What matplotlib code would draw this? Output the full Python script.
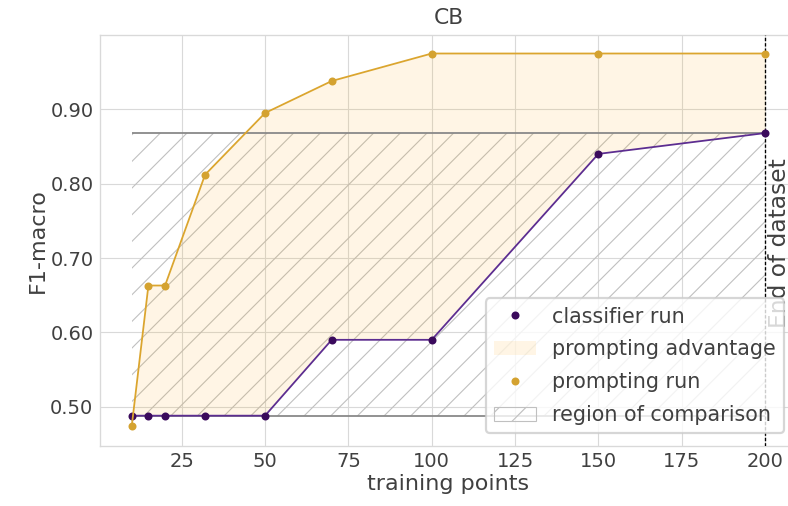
import numpy as np
import matplotlib
matplotlib.use('Agg')
import matplotlib.pyplot as plt
import matplotlib.patches as mpatches
import matplotlib.lines as mlines
import seaborn as sns

# data
train_points = [10, 15, 20, 32, 50, 70, 100, 150, 200]
classifier_f1 = [0.488, 0.488, 0.488, 0.488, 0.488, 0.590, 0.590, 0.840, 0.868]
prompting_f1 = [0.474, 0.663, 0.663, 0.812, 0.895, 0.938, 0.975, 0.975, 0.975]
dataset_end = 200
title = 'CB'

sns.set_style('whitegrid', {'grid.color': '.85', 'axes.edgecolor': '.85',
                            'text.color': '.25', 'xtick.color': '.25',
                            'ytick.color': '.25', 'axes.labelcolor': '.25'})
plt.rcParams['font.family'] = ['DejaVu Sans']
plt.rcParams['hatch.linewidth'] = 0.5

dpi = 160
fig = plt.figure(figsize=(788 / dpi, 506 / dpi), dpi=dpi)
ax = fig.add_axes([0.127, 0.119, 0.884, 0.812])

x = np.array(train_points)
clf = np.array(classifier_f1)
prm = np.array(prompting_f1)
cmin, cmax = clf.min(), clf.max()

clf_line = '#5c2d91'
clf_dot = '#3a0a5c'
prm_line = '#dba52e'
prm_dot = '#d4a230'

# region of comparison
ax.fill_between(x, cmin, cmax, facecolor='none', edgecolor='#c0c0c0',
                linewidth=0, hatch='//', zorder=1)
ax.hlines([cmin, cmax], x[0], x[-1], color='#888888', linewidth=0.8, zorder=2)

# prompting advantage
ax.fill_between(x, clf, prm, where=prm >= clf, interpolate=True,
                color='orange', alpha=0.1, linewidth=0, zorder=1)

ax.plot(x, clf, color=clf_line, linewidth=0.8, marker='o', markersize=2.6,
        markerfacecolor=clf_dot, markeredgecolor=clf_dot, zorder=4)
ax.plot(x, prm, color=prm_line, linewidth=0.8, marker='o', markersize=2.6,
        markerfacecolor=prm_dot, markeredgecolor=prm_dot, zorder=4)

ax.axvline(dataset_end, color='black', linestyle='--', linewidth=0.6,
           dashes=(2.5, 1.5), zorder=3)
ax.text(dataset_end + 4.3, 0.72, 'End of dataset', rotation=90,
        ha='center', va='center', fontsize=10.5, color='.25', zorder=3)

yt = [0.5, 0.6, 0.7, 0.8, 0.9]
ax.set_ylim(0.4475, 1.0)
ax.set_yticks(yt)
ax.set_yticklabels(['%.2f' % v for v in yt])
ax.set_xticks([25, 50, 75, 100, 125, 150, 175, 200])
ax.set_xlim(0.5, 209.5)
ax.tick_params(labelsize=8.8, length=0, pad=3)
ax.grid(linewidth=0.5)
for s in ax.spines.values():
    s.set_linewidth(0.6)

ax.set_title(title, fontsize=9.8, pad=5)
ax.set_xlabel('training points', fontsize=10, labelpad=1)
ax.set_ylabel('F1-macro', fontsize=10, labelpad=1)

handles = [
    mlines.Line2D([], [], linestyle='none', marker='o', markersize=2.6,
                  color=clf_dot),
    mpatches.Patch(facecolor='orange', alpha=0.1, linewidth=0),
    mlines.Line2D([], [], linestyle='none', marker='o', markersize=2.6,
                  color=prm_dot),
    mpatches.Patch(facecolor='none', edgecolor='#c0c0c0', linewidth=0.5,
                   hatch='//'),
]
labels = ['classifier run', 'prompting advantage', 'prompting run',
          'region of comparison']
ax.legend(handles, labels, loc='lower right', fontsize=9.3,
          borderaxespad=0.6, handlelength=2.0, labelspacing=0.62)

fig.savefig('out.png', dpi=dpi, facecolor='white')
